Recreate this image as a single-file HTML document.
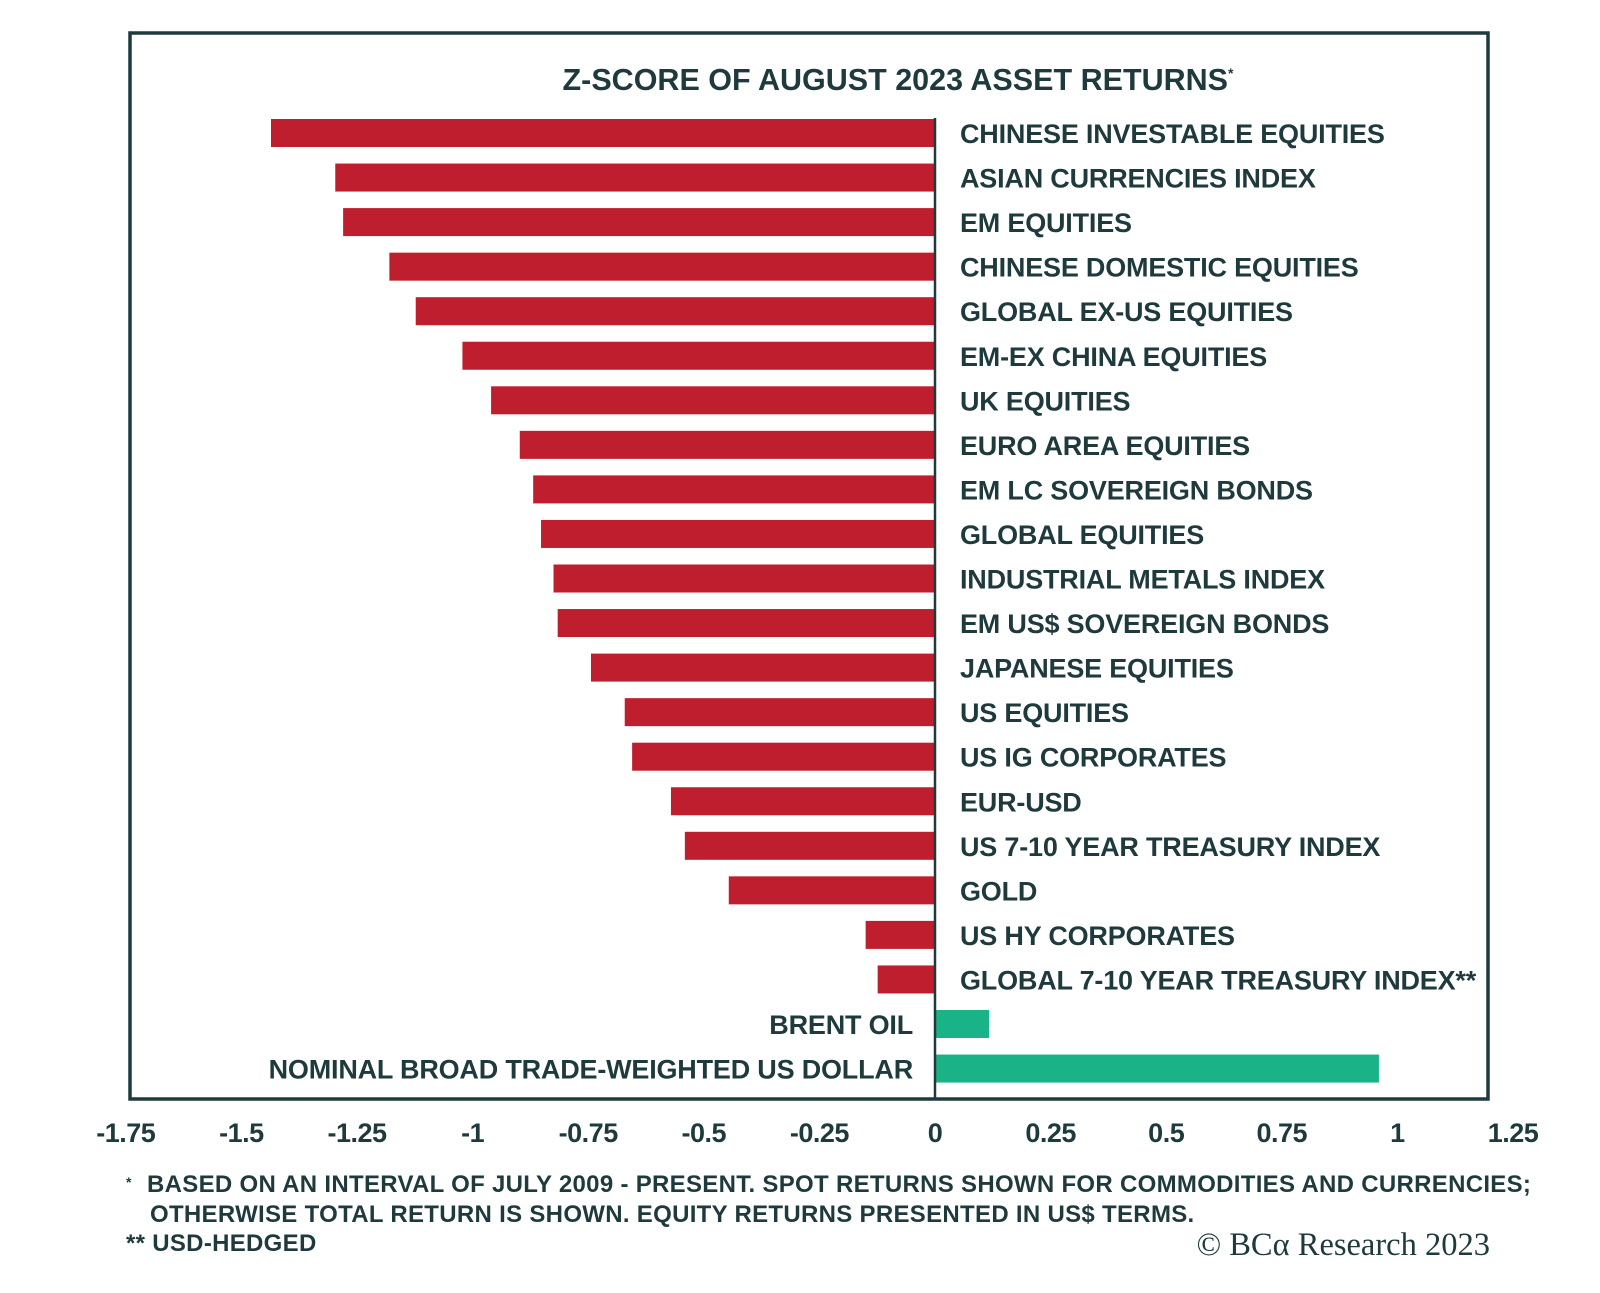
<!DOCTYPE html>
<html><head><meta charset="utf-8"><style>
body{margin:0;background:#fff;}
svg text{font-family:"Liberation Sans",sans-serif;font-weight:bold;fill:#1f3a3d;}
</style></head><body>
<svg width="1600" height="1288" xmlns="http://www.w3.org/2000/svg">
<rect x="130" y="33" width="1358" height="1066" fill="none" stroke="#1f3a3d" stroke-width="3.5"/>
<text x="898" y="90" font-size="30.5" text-anchor="middle" letter-spacing="0">Z-SCORE OF AUGUST 2023 ASSET RETURNS<tspan font-size="14" dy="-12">*</tspan></text>
<g id="bars"></g>
<g id="ticks"></g>
<text x="126" y="1187" font-size="14">*</text>
<text x="147" y="1192" font-size="24" letter-spacing="0.3">BASED ON AN INTERVAL OF JULY 2009 - PRESENT. SPOT RETURNS SHOWN FOR COMMODITIES AND CURRENCIES;</text>
<text x="150" y="1222" font-size="24" letter-spacing="0.3">OTHERWISE TOTAL RETURN IS SHOWN. EQUITY RETURNS PRESENTED IN US$ TERMS.</text>
<text x="126" y="1251" font-size="24" letter-spacing="0.3">** USD-HEDGED</text>
<text x="1490" y="1255" font-size="32.5" text-anchor="end" style="font-family:'Liberation Serif',serif;font-weight:normal">© BCα Research 2023</text>
</svg>
<script>
const categories=["CHINESE INVESTABLE EQUITIES","ASIAN CURRENCIES INDEX","EM EQUITIES","CHINESE DOMESTIC EQUITIES","GLOBAL EX-US EQUITIES","EM-EX CHINA EQUITIES","UK EQUITIES","EURO AREA EQUITIES","EM LC SOVEREIGN BONDS","GLOBAL EQUITIES","INDUSTRIAL METALS INDEX","EM US$ SOVEREIGN BONDS","JAPANESE EQUITIES","US EQUITIES","US IG CORPORATES","EUR-USD","US 7-10 YEAR TREASURY INDEX","GOLD","US HY CORPORATES","GLOBAL 7-10 YEAR TREASURY INDEX**","BRENT OIL","NOMINAL BROAD TRADE-WEIGHTED US DOLLAR"];
const values=[-1.436,-1.297,-1.28,-1.18,-1.123,-1.022,-0.96,-0.898,-0.869,-0.852,-0.825,-0.816,-0.744,-0.671,-0.655,-0.571,-0.541,-0.446,-0.15,-0.124,0.117,0.96];
const tickValues=[-1.75,-1.5,-1.25,-1,-0.75,-0.5,-0.25,0,0.25,0.5,0.75,1,1.25];
const tickLabels=["-1.75","-1.5","-1.25","-1","-0.75","-0.5","-0.25","0","0.25","0.5","0.75","1","1.25"];
const NS="http://www.w3.org/2000/svg";
const x=v=>935+v*462.4;
const y=i=>133+i*44.55;
const bars=document.getElementById('bars');
values.forEach((v,i)=>{
  const r=document.createElementNS(NS,'rect');
  r.setAttribute('x',Math.min(x(0),x(v)));r.setAttribute('y',y(i)-14);
  r.setAttribute('width',Math.abs(x(v)-x(0)));r.setAttribute('height',28);
  r.setAttribute('fill',v<0?'#be1e2d':'#1ab387');
  
  
  bars.appendChild(r);
  const t=document.createElementNS(NS,'text');
  t.setAttribute('y',y(i)+10);t.setAttribute('font-size','27');t.setAttribute('letter-spacing','-0.2');
  if(v<0){t.setAttribute('x',x(0)+25);}else{t.setAttribute('x',x(0)-22);t.setAttribute('text-anchor','end');}
  t.textContent=categories[i];
  
  
  bars.appendChild(t);
});
const axis=document.createElementNS(NS,'line');
axis.setAttribute('x1',x(0));axis.setAttribute('x2',x(0));axis.setAttribute('y1',118);axis.setAttribute('y2',1099);
axis.setAttribute('stroke','#1f3a3d');axis.setAttribute('stroke-width','2.5');


bars.appendChild(axis);
const ticks=document.getElementById('ticks');
tickValues.forEach((v,i)=>{
  const t=document.createElementNS(NS,'text');
  t.setAttribute('x',x(v));t.setAttribute('y',1142);t.setAttribute('font-size','27');
  t.setAttribute('text-anchor','middle');t.setAttribute('letter-spacing','-0.5');
  t.textContent=tickLabels[i];
  
  
  ticks.appendChild(t);
});
</script>
</body></html>
